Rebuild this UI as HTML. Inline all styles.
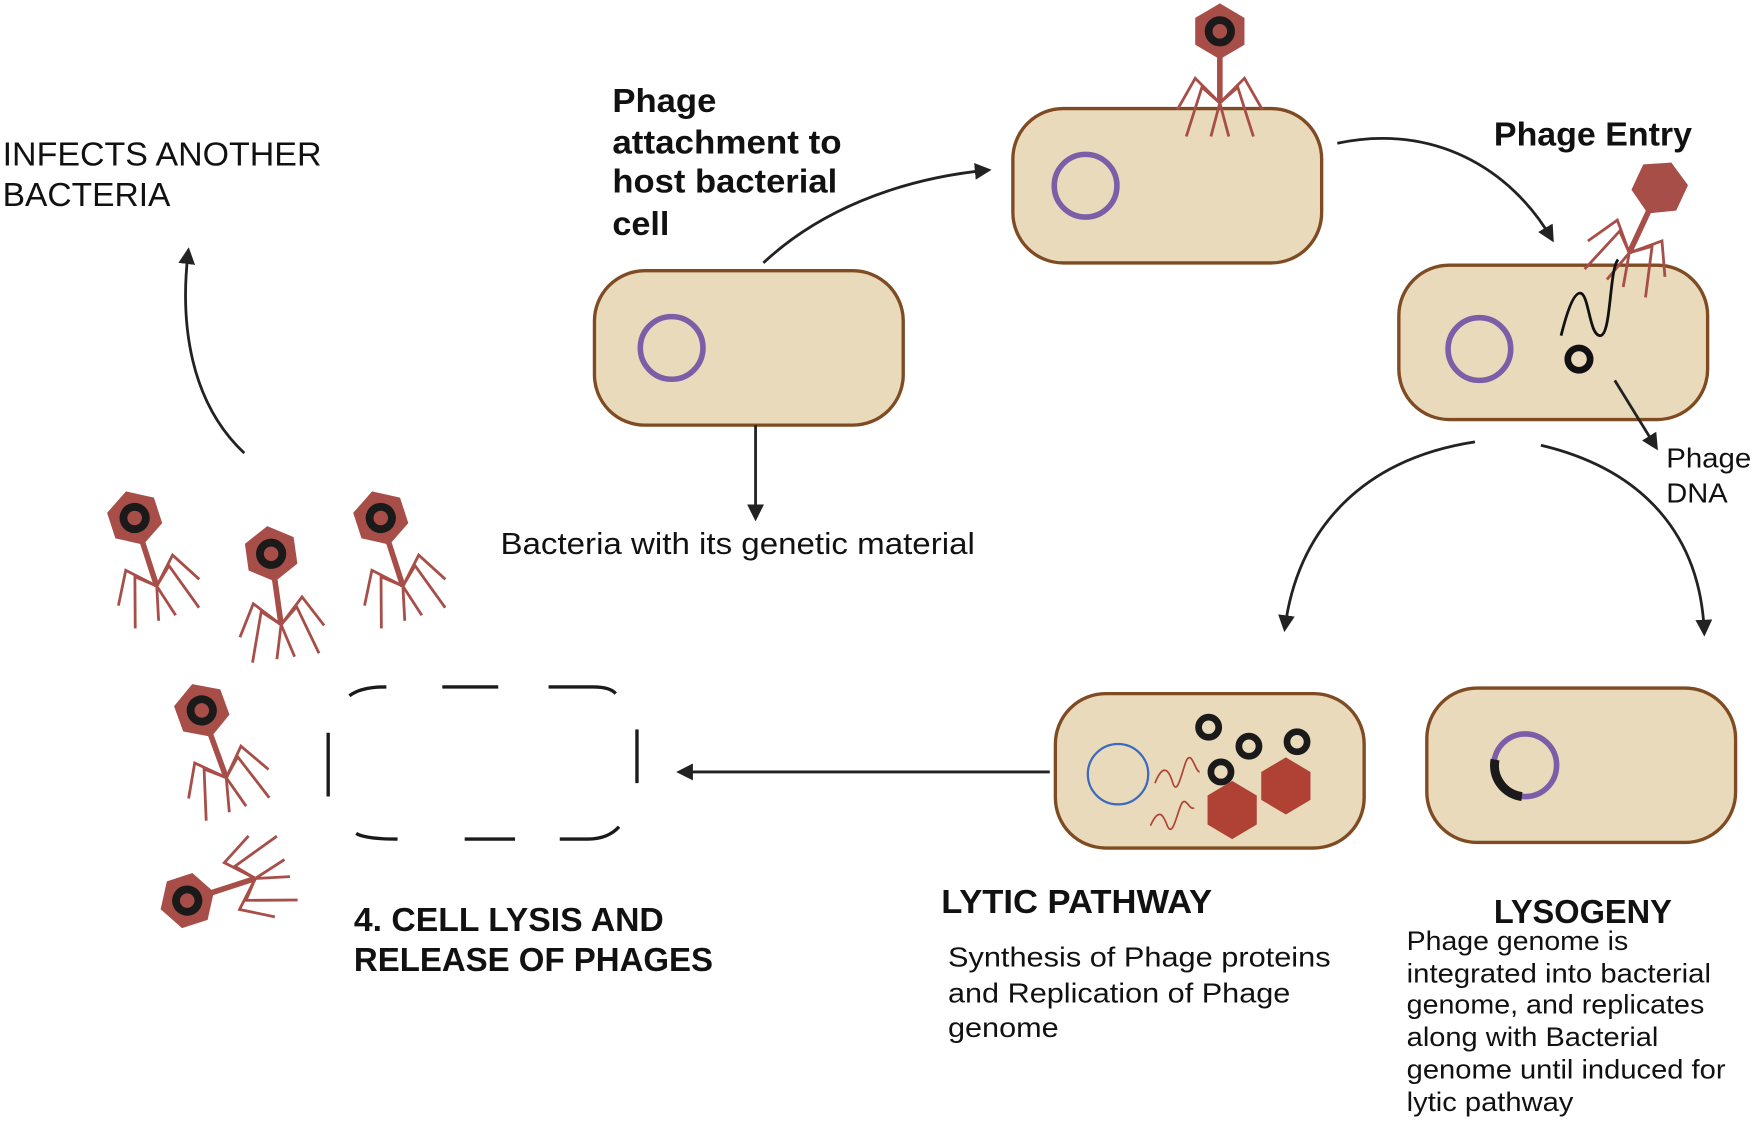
<!DOCTYPE html>
<html><head><meta charset="utf-8"><style>
html,body{margin:0;padding:0;background:#fff;}
svg{display:block;}
text{font-family:"Liberation Sans",Arial,sans-serif;fill:#111;}
.b{font-weight:bold;}
</style></head><body>
<svg width="1755" height="1121" viewBox="0 0 1568 1002" xmlns="http://www.w3.org/2000/svg">
<defs>
<marker id="ah" viewBox="0 0 10 10" refX="8" refY="5" markerWidth="6" markerHeight="6" orient="auto-start-reverse">
<path d="M0,0 L10,5 L0,10 z" fill="#222"/></marker>
<g id="phage">
<line x1="0" y1="20" x2="0" y2="64" stroke="#a84e48" stroke-width="5"/>
<g stroke="#a84e48" stroke-width="2.5" fill="none">
<polyline points="0,64 -22,42 -38,70"/>
<polyline points="0,64 -16,50 -30,94"/>
<polyline points="0,64 -8,94"/>
<polyline points="0,64 22,42 38,70"/>
<polyline points="0,64 16,50 30,94"/>
<polyline points="0,64 8,94"/>
</g>
<polygon points="0,-25 22,-12 22,12 0,25 -22,12 -22,-12" fill="#a84e48"/>
<circle cx="0" cy="0" r="10" fill="none" stroke="#1a1a1a" stroke-width="7"/>
</g>
</defs>

<g fill="#e9dabb" stroke="#7f4b22" stroke-width="3">
<rect x="531" y="242" width="276" height="138" rx="45"/>
<rect x="905" y="97" width="276" height="138" rx="45"/>
<rect x="1250" y="237" width="276" height="138" rx="45"/>
<rect x="943" y="620" width="276" height="138" rx="45"/>
<rect x="1275" y="615" width="276" height="138" rx="45"/>
</g>
<g fill="none" stroke="#7b5ea7" stroke-width="5">
<circle cx="600" cy="311" r="28"/>
<circle cx="970" cy="166" r="28"/>
<circle cx="1322" cy="312" r="28"/>
</g>
<!-- dashed lysed cell -->
<g fill="none" stroke="#1a1a1a" stroke-width="3">
<path d="M312,622 Q322,614 345,614"/>
<path d="M395,614 L445,614"/>
<path d="M490,614 L530,614 Q545,614 550,620"/>
<path d="M293,655 L293,712"/>
<path d="M569,652 L569,700"/>
<path d="M318,745 Q326,750 355,750"/>
<path d="M415,750 L460,750"/>
<path d="M500,750 L525,750 Q543,750 553,739"/>
</g>

<use href="#phage" transform="translate(1090,28)"/>
<use href="#phage" transform="translate(1483,168) rotate(25)"/>
<polygon points="1483,143 1505,155 1505,180 1483,193 1461,180 1461,155" fill="#a84e48" transform="rotate(25 1483 168)"/>
<path d="M1395,300 C1400,280 1406,262 1412,262 C1420,262 1420,300 1430,300 C1440,300 1438,240 1446,232" fill="none" stroke="#111" stroke-width="2.5"/>
<circle cx="1411" cy="321" r="10" fill="none" stroke="#111" stroke-width="6"/>

<use href="#phage" transform="translate(120,463) rotate(-18)"/>
<use href="#phage" transform="translate(242,495) rotate(-8)"/>
<use href="#phage" transform="translate(340,463) rotate(-18)"/>
<use href="#phage" transform="translate(180,635) rotate(-20)"/>
<use href="#phage" transform="translate(167,805) rotate(-108)"/>

<circle cx="999" cy="692" r="27" fill="none" stroke="#3b6bbf" stroke-width="2"/>
<g fill="none" stroke="#1a1a1a" stroke-width="6">
<circle cx="1080" cy="650" r="9"/>
<circle cx="1116" cy="667" r="9"/>
<circle cx="1159" cy="663" r="9"/>
<circle cx="1091" cy="690" r="9"/>
</g>
<polygon points="1101,698 1123,711 1123,737 1101,750 1079,737 1079,711" fill="#b04235"/>
<polygon points="1149,677 1171,690 1171,715 1149,728 1127,715 1127,690" fill="#b04235"/>
<g fill="none" stroke="#b04235" stroke-width="1.5">
<path d="M1032,700 C1040,680 1045,690 1048,700 C1052,712 1056,690 1060,680 C1065,670 1068,690 1072,690"/>
<path d="M1028,738 C1036,720 1040,730 1043,738 C1048,750 1052,725 1056,718 C1060,712 1063,725 1067,722"/>
</g>
<circle cx="1363" cy="684" r="28" fill="none" stroke="#7b5ea7" stroke-width="5"/>
<path d="M1336,679 A28,28 0 0 0 1360,712" fill="none" stroke="#1a1a1a" stroke-width="8"/>

<g fill="none" stroke="#222" stroke-width="2.5" marker-end="url(#ah)">
<path d="M682,235 C730,190 800,160 883,152"/>
<path d="M1195,128 C1280,110 1350,150 1387,214"/>
<path d="M1443,340 L1480,400"/>
<path d="M1318,395 C1220,410 1160,470 1148,562"/>
<path d="M1377,398 C1470,420 1520,480 1523,566"/>
<path d="M675,380 L675,463"/>
<path d="M938,690 L607,690"/>
<path d="M218,405 C170,360 160,290 168,224"/>
</g>

<g lengthAdjust="spacingAndGlyphs">
<text class="b" font-size="30"><tspan x="547" y="100" textLength="93" lengthAdjust="spacingAndGlyphs">Phage</tspan><tspan x="547" y="137" textLength="205" lengthAdjust="spacingAndGlyphs">attachment to</tspan><tspan x="547" y="172" textLength="201" lengthAdjust="spacingAndGlyphs">host bacterial</tspan><tspan x="547" y="210" textLength="51" lengthAdjust="spacingAndGlyphs">cell</tspan></text>
<text font-size="30"><tspan x="2" y="148" textLength="285" lengthAdjust="spacingAndGlyphs">INFECTS ANOTHER</tspan><tspan x="2" y="184" textLength="150" lengthAdjust="spacingAndGlyphs">BACTERIA</tspan></text>
<text x="447" y="495" font-size="27" textLength="424" lengthAdjust="spacingAndGlyphs">Bacteria with its genetic material</text>
<text class="b" x="1335" y="130" font-size="30" textLength="177" lengthAdjust="spacingAndGlyphs">Phage Entry</text>
<text font-size="25"><tspan x="1489" y="418" textLength="76" lengthAdjust="spacingAndGlyphs">Phage</tspan><tspan x="1489" y="449" textLength="55" lengthAdjust="spacingAndGlyphs">DNA</tspan></text>
<text class="b" font-size="30"><tspan x="316" y="832" textLength="277" lengthAdjust="spacingAndGlyphs">4. CELL LYSIS AND</tspan><tspan x="316" y="868" textLength="321" lengthAdjust="spacingAndGlyphs">RELEASE OF PHAGES</tspan></text>
<text class="b" x="841" y="816" font-size="30" textLength="242" lengthAdjust="spacingAndGlyphs">LYTIC PATHWAY</text>
<text font-size="25"><tspan x="847" y="864" textLength="342" lengthAdjust="spacingAndGlyphs">Synthesis of Phage proteins</tspan><tspan x="847" y="896" textLength="306" lengthAdjust="spacingAndGlyphs">and Replication of Phage</tspan><tspan x="847" y="927" textLength="99" lengthAdjust="spacingAndGlyphs">genome</tspan></text>
<text class="b" x="1335" y="825" font-size="30" textLength="159" lengthAdjust="spacingAndGlyphs">LYSOGENY</text>
<text font-size="24"><tspan x="1257" y="849" textLength="198" lengthAdjust="spacingAndGlyphs">Phage genome is</tspan><tspan x="1257" y="878" textLength="272" lengthAdjust="spacingAndGlyphs">integrated into bacterial</tspan><tspan x="1257" y="906" textLength="266" lengthAdjust="spacingAndGlyphs">genome, and replicates</tspan><tspan x="1257" y="935" textLength="225" lengthAdjust="spacingAndGlyphs">along with Bacterial</tspan><tspan x="1257" y="964" textLength="285" lengthAdjust="spacingAndGlyphs">genome until induced for</tspan><tspan x="1257" y="993" textLength="149" lengthAdjust="spacingAndGlyphs">lytic pathway</tspan></text>
</g>
</svg>
</body></html>
